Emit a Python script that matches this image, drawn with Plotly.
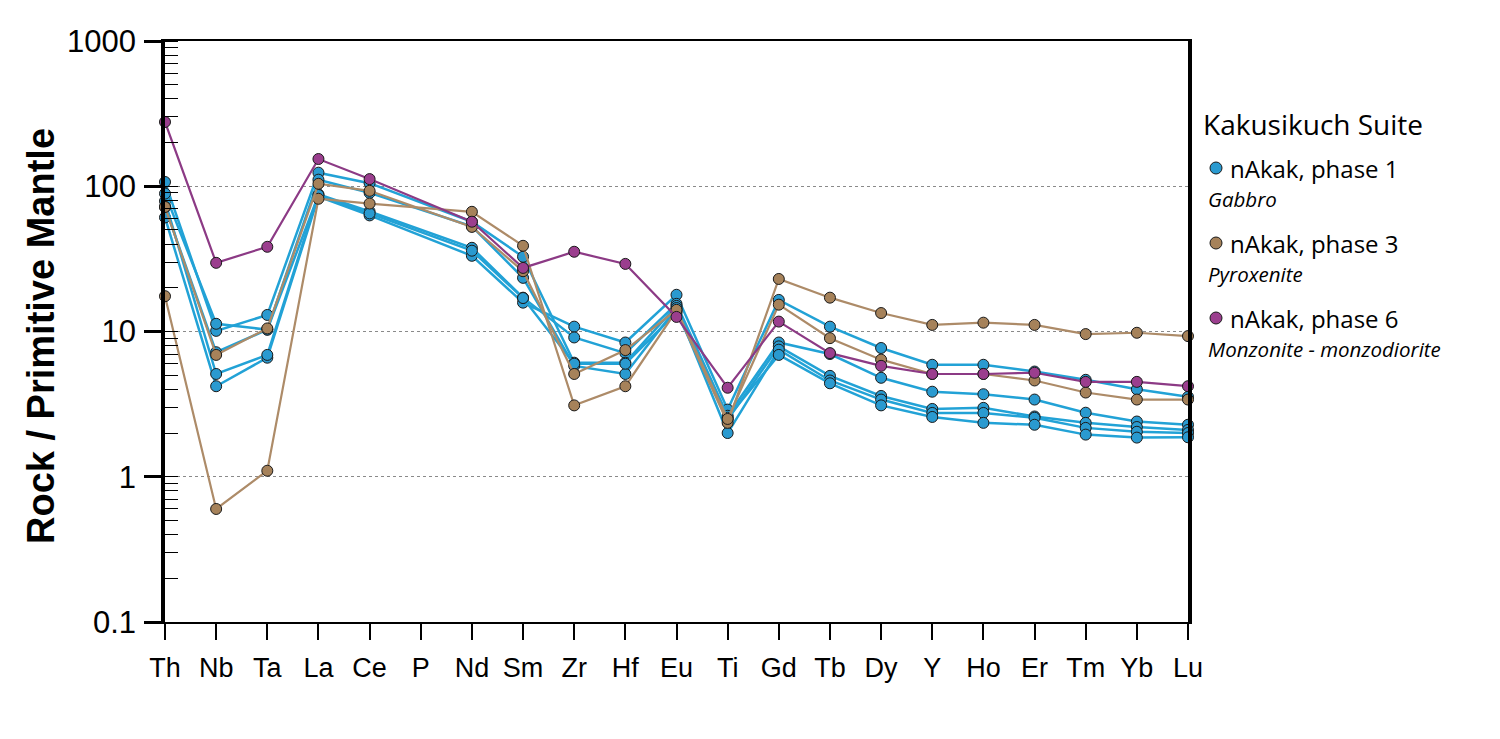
import plotly.graph_objects as go

elements = ["Th", "Nb", "Ta", "La", "Ce", "P", "Nd", "Sm", "Zr", "Hf", "Eu",
            "Ti", "Gd", "Tb", "Dy", "Y", "Ho", "Er", "Tm", "Yb", "Lu"]

# phase 1 - Gabbro (blue)
phase1_a = [61, 4.2, 6.6, 85, 63, None, 33.2, 15.8, 10.8, 8.4, 17.9, 2.9, 16.5, 10.8, 7.7, 5.9, 5.9, 5.3, 4.65, 4.0, 3.55]
phase1_b = [79, 5.1, 6.9, 88, 67, None, 37.7, 17.1, 9.1, 7.1, 15.5, 2.63, 8.4, 7.0, 4.8, 3.85, 3.7, 3.4, 2.76, 2.4, 2.28]
phase1_c = [107, 10.1, 13.0, 124, 105, None, 57, 32.7, 6.1, 6.1, 15.0, 2.47, 7.9, 4.95, 3.6, 2.93, 2.98, 2.6, 2.35, 2.2, 2.1]
phase1_d = [89, 11.3, 10.3, 111, 90, None, 53, 23.4, 5.8, 5.1, 14.5, 2.0, 7.5, 4.6, 3.4, 2.75, 2.75, 2.55, 2.17, 2.04, 2.0]
phase1_e = [72, 7.2, 10.3, 87, 65, None, 36, 17.0, 6.0, 6.0, 13.5, 2.55, 6.9, 4.4, 3.1, 2.58, 2.35, 2.28, 1.95, 1.86, 1.87]

# phase 3 - Pyroxenite (brown)
phase3_a = [17.5, 0.6, 1.1, 82, 76, None, 66.7, 38.9, 3.1, 4.2, 13.9, 2.35, 23.0, 17.1, 13.4, 11.1, 11.5, 11.1, 9.6, 9.8, 9.3]
phase3_b = [72, 6.9, 10.5, 104, 93, None, 52.5, 26.0, 5.1, 7.45, 14.1, 2.5, 15.3, 9.0, 6.4, 5.1, 5.1, 4.6, 3.8, 3.4, 3.4]

# phase 6 - Monzonite - monzodiorite (purple)
phase6_a = [277, 29.7, 38.3, 154, 112, None, 57, 27.4, 35.4, 29.2, 12.6, 4.1, 11.7, 7.1, 5.8, 5.1, 5.1, 5.2, 4.5, 4.5, 4.2]

blue_series = [phase1_a, phase1_b, phase1_c, phase1_d, phase1_e]
brown_series = [phase3_a, phase3_b]
purple_series = [phase6_a]

BLUE_L, BLUE_M = "#22A2D6", "#2A9AD0"
BROWN_L, BROWN_M = "#AD8B68", "#A6825A"
PURP_L, PURP_M = "#8C3A85", "#9B3E8E"

fig = go.Figure()

def add(series, lc, mc, lw):
    for s in series:
        fig.add_trace(go.Scatter(
            x=elements, y=s, mode="lines+markers", connectgaps=True,
            line=dict(color=lc, width=lw),
            marker=dict(size=11, color=mc, line=dict(color="#1a1a1a", width=1)),
            cliponaxis=False, showlegend=False, hoverinfo="x+y"))

add(blue_series, BLUE_L, BLUE_M, 2.5)
add(brown_series, BROWN_L, BROWN_M, 2.2)
add(purple_series, PURP_L, PURP_M, 2.2)

# page body has an 8px offset; margins compensate so the plot area
# lands at x 165-1188, y 41-622 in the window
OFF = 8
fig.update_layout(
    width=1500, height=739,
    margin=dict(l=165 - OFF, r=1500 - 1188 + OFF, t=41 - OFF, b=739 - 622 + OFF),
    paper_bgcolor="white", plot_bgcolor="white",
    font=dict(family="Liberation Sans, Arial", color="black"),
)

fig.update_xaxes(
    type="category", categoryorder="array", categoryarray=elements,
    range=[0, 20], showgrid=False,
    showline=True, linecolor="black", linewidth=2, mirror=True,
    ticks="outside", ticklen=16, tickwidth=2, tickcolor="black",
    tickfont=dict(size=27, family="Liberation Sans, Arial"),
    ticklabelstandoff=5, zeroline=False,
)

fig.update_yaxes(
    type="log", range=[-1, 3],
    tickvals=[0.1, 1, 10, 100, 1000], ticktext=["0.1", "1", "10", "100", "1000"],
    showgrid=True, gridcolor="#8a8a8a", griddash="dot", gridwidth=1,
    showline=True, linecolor="black", linewidth=3.5, mirror=True,
    ticks="outside", ticklen=17, tickwidth=2.5, tickcolor="black",
    tickfont=dict(size=31, family="Liberation Sans, Arial"),
    ticklabelstandoff=2,
    minor=dict(ticks="inside", ticklen=13, tickwidth=1, tickcolor="black",
               dtick="D1", showgrid=False),
    zeroline=False,
)

def px_x(px):
    return (px - 165) / 1023.0

def px_y(py):
    return (622 - py) / 581.0

annotations = [
    dict(text="<b>Rock / Primitive Mantle</b>", x=px_x(41), y=px_y(336),
         xref="paper", yref="paper", textangle=-90, showarrow=False,
         font=dict(size=38, family="Liberation Sans, Arial", color="black"),
         xanchor="center", yanchor="middle"),
    dict(text="Kakusikuch Suite", x=px_x(1201), y=px_y(124),
         xref="paper", yref="paper", showarrow=False, xanchor="left", yanchor="middle",
         font=dict(size=28, family="Open Sans", color="black")),
]

legend_items = [
    ("nAkak, phase 1", "Gabbro", BLUE_M, 168),
    ("nAkak, phase 3", "Pyroxenite", BROWN_M, 243),
    ("nAkak, phase 6", "Monzonite - monzodiorite", PURP_M, 318),
]
shapes = []
for name, sub, col, yc in legend_items:
    annotations.append(dict(text=name, x=px_x(1228), y=px_y(yc), xref="paper", yref="paper",
                            showarrow=False, xanchor="left", yanchor="middle",
                            font=dict(size=24, family="Open Sans", color="black")))
    annotations.append(dict(text="<i>" + sub + "</i>", x=px_x(1206), y=px_y(yc + 31),
                            xref="paper", yref="paper", showarrow=False,
                            xanchor="left", yanchor="middle",
                            font=dict(size=20.5, family="Open Sans", color="black")))
    shapes.append(dict(type="circle", xref="paper", yref="paper",
                       x0=px_x(1210), x1=px_x(1222), y0=px_y(yc + 6), y1=px_y(yc - 6),
                       fillcolor=col, line=dict(color="#1a1a1a", width=1)))

fig.update_layout(annotations=annotations, shapes=shapes)

fig.write_html("out.html")
